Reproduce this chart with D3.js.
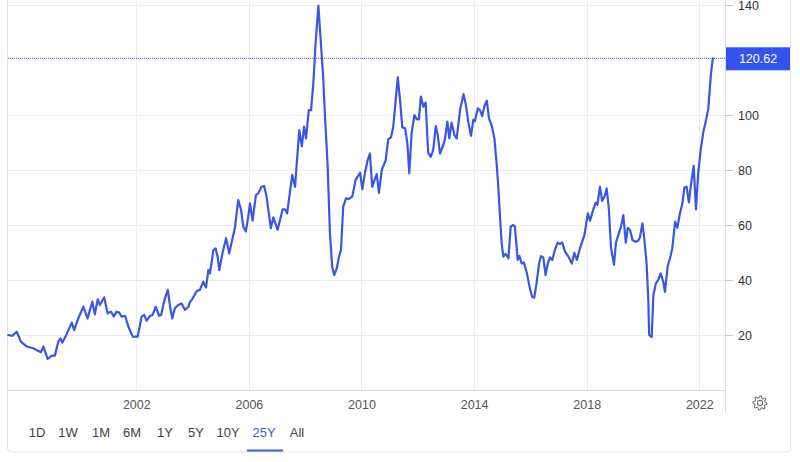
<!DOCTYPE html>
<html><head><meta charset="utf-8">
<script src="https://cdn.jsdelivr.net/npm/d3@7"></script>
<style>
html,body{margin:0;padding:0;background:#fff;}
svg{display:block;font-family:"Liberation Sans",Arial,sans-serif;}
</style></head>
<body>
<svg id="chart" width="800" height="462"></svg>
<script>
// decimal-year positions of the monthly observations
const years = [1997.45,1997.60,1997.75,1997.90,1998.11,1998.34,1998.52,1998.61,1998.70,1998.85,1999.00,1999.11,1999.23,1999.31,1999.37,1999.53,1999.71,1999.79,1999.94,2000.12,2000.27,2000.44,2000.53,2000.63,2000.71,2000.86,2000.98,2001.10,2001.20,2001.30,2001.39,2001.48,2001.60,2001.72,2001.87,2002.05,2002.19,2002.28,2002.37,2002.49,2002.58,2002.69,2002.81,2002.88,2003.00,2003.12,2003.21,2003.28,2003.37,2003.49,2003.61,2003.73,2003.85,2003.91,2003.97,2004.15,2004.26,2004.38,2004.48,2004.56,2004.62,2004.74,2004.82,2004.89,2004.95,2005.06,2005.19,2005.30,2005.51,2005.62,2005.72,2005.80,2005.89,2005.94,2006.04,2006.13,2006.25,2006.33,2006.45,2006.54,2006.63,2006.78,2006.87,2007.02,2007.20,2007.28,2007.36,2007.54,2007.64,2007.79,2007.88,2007.96,2008.03,2008.13,2008.21,2008.29,2008.37,2008.47,2008.56,2008.64,2008.70,2008.80,2008.88,2008.96,2009.03,2009.12,2009.20,2009.27,2009.35,2009.45,2009.56,2009.67,2009.79,2009.95,2010.03,2010.12,2010.22,2010.30,2010.38,2010.54,2010.62,2010.72,2010.86,2010.95,2011.05,2011.13,2011.29,2011.37,2011.45,2011.55,2011.63,2011.70,2011.78,2011.88,2011.96,2012.04,2012.11,2012.20,2012.28,2012.37,2012.46,2012.55,2012.64,2012.71,2012.79,2012.91,2012.97,2013.05,2013.12,2013.20,2013.30,2013.38,2013.50,2013.62,2013.71,2013.79,2013.89,2013.97,2014.03,2014.13,2014.21,2014.29,2014.36,2014.45,2014.53,2014.63,2014.72,2014.80,2014.86,2014.92,2014.98,2015.04,2015.12,2015.22,2015.30,2015.39,2015.45,2015.55,2015.61,2015.69,2015.77,2015.87,2015.99,2016.07,2016.14,2016.22,2016.31,2016.38,2016.46,2016.54,2016.62,2016.70,2016.78,2016.87,2016.97,2017.05,2017.13,2017.23,2017.35,2017.47,2017.56,2017.65,2017.76,2017.92,2018.04,2018.12,2018.23,2018.32,2018.38,2018.47,2018.55,2018.63,2018.71,2018.79,2018.86,2018.97,2019.04,2019.15,2019.22,2019.30,2019.39,2019.46,2019.54,2019.63,2019.74,2019.83,2019.89,2019.98,2020.04,2020.13,2020.19,2020.22,2020.31,2020.37,2020.46,2020.54,2020.63,2020.72,2020.78,2020.88,2020.96,2021.04,2021.14,2021.22,2021.31,2021.40,2021.47,2021.55,2021.63,2021.71,2021.80,2021.88,2021.96,2022.05,2022.14,2022.24,2022.32,2022.41,2022.48];
// price values (USD/bbl)
const prices = [20.0,19.7,21.2,17.6,15.8,15.2,14.2,13.7,15.8,11.3,12.5,12.5,17.6,18.8,17.2,20.4,24.5,21.8,26.0,30.3,26.0,32.1,27.5,33.0,30.9,33.7,27.9,28.5,26.7,28.5,28.2,26.7,27.0,23.0,19.4,19.4,26.7,27.3,25.2,27.0,27.3,30.3,27.0,27.3,32.7,36.4,29.7,26.0,29.7,30.9,31.5,29.1,30.3,32.1,32.7,36.0,36.4,39.4,37.3,43.6,42.4,50.9,51.5,48.5,43.6,49.7,55.2,49.7,59.4,69.1,65.5,59.4,57.6,60.6,67.9,61.6,70.9,71.5,73.9,74.2,70.3,58.8,62.8,58.2,65.7,65.7,64.2,78.2,73.9,94.5,88.7,95.8,91.5,101.8,101.8,111.5,126.0,139.8,126.0,113.9,100.6,81.2,57.0,44.8,41.8,44.2,48.5,50.9,66.7,69.7,69.5,70.3,76.4,79.0,73.0,78.8,83.6,86.0,73.9,78.5,71.7,80.0,83.6,91.1,91.9,95.8,113.7,105.5,95.5,95.2,89.7,78.8,93.3,100.0,98.5,98.4,106.7,103.0,104.5,86.3,84.8,87.3,96.0,92.7,86.0,89.1,91.5,97.6,91.5,97.2,92.7,91.5,101.8,107.6,103.6,97.6,92.4,98.2,97.8,102.4,101.8,99.6,103.0,105.2,98.8,96.0,91.5,82.4,73.9,63.0,53.3,48.5,49.5,47.9,59.4,60.0,59.4,47.3,48.8,46.0,46.4,42.7,36.6,33.7,33.7,38.8,46.0,48.7,48.2,41.8,46.0,48.2,47.3,50.9,53.6,53.1,53.7,50.3,48.5,46.0,49.9,47.3,51.5,56.4,64.2,61.6,65.5,68.1,67.3,73.9,68.8,70.3,73.3,65.5,52.1,45.5,53.6,57.2,59.4,63.6,53.6,59.0,58.2,54.5,53.9,54.3,55.5,60.6,55.7,46.0,32.7,20.0,19.2,34.5,38.8,40.0,42.4,39.4,35.7,45.1,47.9,51.5,61.2,59.0,64.2,67.9,73.6,73.9,68.2,75.2,81.5,65.7,78.8,87.3,93.6,98.2,102.4,114.5,120.62];
const xTickYears = [2002,2006,2010,2014,2018,2022];
const yTicks = [20,40,60,80,100,120,140];
const lastValue = 120.62;
const ranges = ["1D","1W","1M","6M","1Y","5Y","10Y","25Y","All"];
const activeRange = "25Y";

const toDate = t => { const y = Math.floor(t); return new Date(Date.UTC(y,0,1) + (t - y) * 365.25 * 864e5); };
const data = years.map((t,i) => ({date: toDate(t), value: prices[i]}));

const svg = d3.select("#chart");
const L = 8, R = 725, T = 0, B = 390;
const blue = "#3a56e4", grid = "#ececf0", txt = "#444";

const x = d3.scaleUtc().domain([toDate(1997.442), toDate(2022.913)]).range([L, R]);
const y = d3.scaleLinear().domain([0, 141.82]).range([B, T]);

// container frame
svg.append("path")
  .attr("d", `M${L-0.5},0 V${448} Q${L-0.5},452 ${L+3.5},452 H${786} Q${790.5},452 ${790.5},448 V0`)
  .attr("fill","none").attr("stroke","#e2e2e6");

// horizontal gridlines
svg.append("g").selectAll("line").data(yTicks.filter(d => d !== 120)).join("line")
  .attr("x1", L).attr("x2", R).attr("y1", d => y(d)+0.5).attr("y2", d => y(d)+0.5)
  .attr("stroke", grid);
// vertical gridlines
const xt = xTickYears.map(yr => new Date(Date.UTC(yr,0,1)));
svg.append("g").selectAll("line").data(xt).join("line")
  .attr("x1", d => Math.round(x(d))+0.5).attr("x2", d => Math.round(x(d))+0.5)
  .attr("y1", T).attr("y2", B+2).attr("stroke", grid);

// bottom axis line
svg.append("line").attr("x1", L).attr("x2", R).attr("y1", B+0.5).attr("y2", B+0.5).attr("stroke", "#dcdce2");
// right axis line
svg.append("line").attr("x1", R+0.5).attr("x2", R+0.5).attr("y1", 0).attr("y2", 413).attr("stroke", "#dcdce2");

// right y axis
const yAxis = d3.axisRight(y).tickValues(yTicks.filter(d => d !== 120)).tickSize(8).tickPadding(5).tickFormat(d3.format("d"));
const ya = svg.append("g").attr("transform", `translate(${R},0)`).call(yAxis);
ya.select(".domain").remove();
ya.selectAll("line").attr("stroke", "#c8c8cc");
ya.selectAll("text").attr("fill", "#333").attr("font-size", 12.5).attr("font-family", "Liberation Sans, Arial, sans-serif");

// bottom x axis labels
const xAxis = d3.axisBottom(x).tickValues(xt).tickSize(0).tickPadding(10).tickFormat(d3.utcFormat("%Y"));
const xa = svg.append("g").attr("transform", `translate(0,${B})`).call(xAxis);
xa.select(".domain").remove();
xa.selectAll("text").attr("fill", "#555").attr("font-size", 12.5).attr("font-family", "Liberation Sans, Arial, sans-serif");

// last value dotted line
svg.append("line").attr("x1", L).attr("x2", R).attr("y1", y(lastValue)).attr("y2", y(lastValue))
  .attr("stroke", blue).attr("stroke-width", 1).attr("stroke-dasharray", "1,1");

// price line
svg.append("path").datum(data)
  .attr("fill", "none").attr("stroke", blue).attr("stroke-width", 2.2)
  .attr("stroke-linejoin", "round").attr("stroke-linecap", "round")
  .attr("d", d3.line().x(d => x(d.date)).y(d => y(d.value)));

// last value label
const ly = y(lastValue);
svg.append("rect").attr("x", R+1).attr("y", ly-11).attr("width", 64).attr("height", 23).attr("fill", "#3453ee");
svg.append("text").attr("x", R+33).attr("y", ly+0.5).attr("dy", "0.35em").attr("text-anchor", "middle")
  .attr("fill", "#fff").attr("font-size", 12.5).text(lastValue.toFixed(2));

// range buttons
const bx = [37,68,101,132,165,196,228,264,297];
svg.append("g").selectAll("text").data(ranges).join("text")
  .attr("x", (d,i) => bx[i]).attr("y", 432).attr("dy", "0.35em").attr("text-anchor", "middle")
  .attr("font-size", 13).attr("fill", d => d === activeRange ? "#3b5bdb" : "#444").text(d => d);
svg.append("line").attr("x1", 247).attr("x2", 283).attr("y1", 450.5).attr("y2", 450.5)
  .attr("stroke", "#3b5bdb").attr("stroke-width", 2);

// gear icon
const gcx = 760, gcy = 403, n = 8, ro = 7, ri = 5.2;
let gp = [];
for (let i = 0; i < n*4; i++) {
  const a = (i / (n*4)) * 2 * Math.PI;
  const r = (i % 4 === 0 || i % 4 === 1) ? ro : ri;
  gp.push([gcx + r*Math.cos(a), gcy + r*Math.sin(a)]);
}
svg.append("path").attr("d", d3.line().curve(d3.curveLinearClosed)(gp))
  .attr("fill", "none").attr("stroke", "#777").attr("stroke-width", 1.1);
svg.append("circle").attr("cx", gcx).attr("cy", gcy).attr("r", 2.6).attr("fill", "none").attr("stroke", "#777").attr("stroke-width", 1.1);
</script>
</body></html>
